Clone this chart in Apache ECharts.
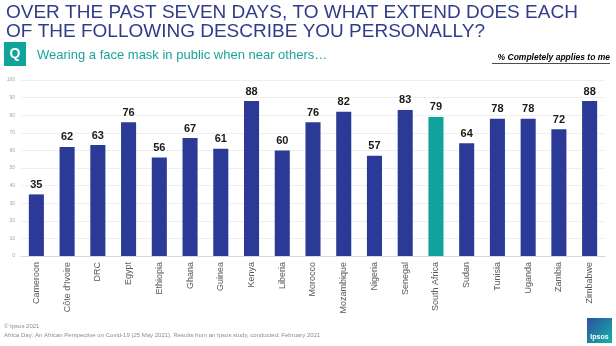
<!DOCTYPE html>
<html><head><meta charset="utf-8">
<script src="https://cdn.jsdelivr.net/npm/echarts@6/dist/echarts.min.js"></script>
<style>html,body{margin:0;padding:0;background:#fff}#c{width:616px;height:346px}</style>
</head><body><div id="c"></div>
<script>
const categories = ["Cameroon","Côte d'Ivoire","DRC","Egypt","Ethiopia","Ghana","Guinea","Kenya","Liberia","Morocco","Mozambique","Nigeria","Senegal","South Africa","Sudan","Tunisia","Uganda","Zambia","Zimbabwe"];
const values = [35,62,63,76,56,67,61,88,60,76,82,57,83,79,64,78,78,72,88];
const highlight = "South Africa";
const yTicks = [0,10,20,30,40,50,60,70,80,90,100];
const titleLines = ["OVER THE PAST SEVEN DAYS, TO WHAT EXTEND DOES EACH","OF THE FOLLOWING DESCRIBE YOU PERSONALLY?"];
const subtitle = "Wearing a face mask in public when near others…";
const note = "% Completely applies to me";
const footer = ["© Ipsos 2021","Africa Day: An African Perspective on Covid-19 (25 May 2021). Results from an Ipsos study, conducted: February 2021"];

const BLUE = "#2B3A96", TEAL = "#0FA39B";
const chart = echarts.init(document.getElementById('c'));
chart.setOption({
  animation: false,
  textStyle: {fontFamily: "Liberation Sans, Arial, sans-serif"},
  grid: {left: 21, right: 11, top: 80, bottom: 90},
  xAxis: {
    type: 'category', data: categories,
    axisTick: {show: false},
    axisLine: {lineStyle: {color: '#d9d9d9'}},
    axisLabel: {rotate: 90, color: '#595959', fontSize: 9, margin: 6, interval: 0}
  },
  yAxis: {
    type: 'value', min: yTicks[0], max: yTicks[yTicks.length - 1], interval: yTicks[1] - yTicks[0],
    axisLabel: {fontSize: 5, color: '#a6a6a6', margin: 6},
    splitLine: {lineStyle: {color: '#efefef'}},
    axisLine: {show: false}, axisTick: {show: false}
  },
  series: [{
    type: 'bar', barWidth: '49%',
    data: values.map((v, i) => ({value: v, itemStyle: {color: categories[i] === highlight ? TEAL : BLUE}})),
    label: {show: true, position: 'top', distance: 4, fontWeight: 'bold', fontSize: 11, color: '#1a1a1a'}
  }],
  graphic: [
    {type: 'text', left: 6, top: 3, style: {text: titleLines.join('\n'), fill: '#303C8A', font: '19px "Liberation Sans", Arial, sans-serif', lineHeight: 19}},
    {type: 'rect', shape: {x: 4, y: 42, width: 22, height: 24}, style: {fill: TEAL}},
    {type: 'text', style: {x: 15, y: 54, text: 'Q', fill: '#fff', font: 'bold 14px "Liberation Sans", Arial', align: 'center', verticalAlign: 'middle'}},
    {type: 'text', style: {x: 37, y: 55, text: subtitle, fill: '#1BA39A', font: '13px "Liberation Sans", Arial', verticalAlign: 'middle'}},
    {type: 'text', style: {x: 610, y: 58, text: note, fill: '#000', font: 'italic bold 8.5px "Liberation Sans", Arial', align: 'right', verticalAlign: 'middle'}},
    {type: 'line', shape: {x1: 492, y1: 63.5, x2: 610, y2: 63.5}, style: {stroke: '#000', lineWidth: 0.7}},
    {type: 'text', style: {x: 4, y: 326, text: footer[0], fill: '#8c8c8c', font: '6px "Liberation Sans", Arial', verticalAlign: 'middle'}},
    {type: 'text', style: {x: 4, y: 335, text: footer[1], fill: '#8c8c8c', font: '6px "Liberation Sans", Arial', verticalAlign: 'middle'}},
    {type: 'rect', shape: {x: 587, y: 318, width: 25, height: 25},
      style: {fill: new echarts.graphic.LinearGradient(0, 0, 1, 1, [{offset: 0, color: '#2F4FA0'}, {offset: 1, color: '#12B3A6'}])}},
    {type: 'text', style: {x: 599.5, y: 337, text: 'Ipsos', fill: '#fff', font: 'bold 7px "Liberation Sans", Arial', align: 'center', verticalAlign: 'middle'}}
  ]
});
</script></body></html>
